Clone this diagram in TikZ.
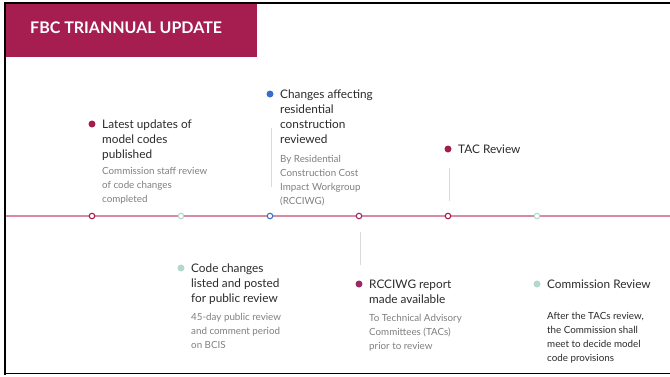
\documentclass[tikz,border=0pt]{standalone}
\usepackage{fontspec}
\setmainfont{Lato}
\definecolor{fbcred}{HTML}{A51E4F}
\definecolor{tline}{HTML}{D98AA3}
\definecolor{tmag}{HTML}{A31D4F}
\definecolor{tteal}{HTML}{B3D8CE}
\definecolor{tblue}{HTML}{3A6FC9}
\definecolor{tpurp}{HTML}{9A2A66}
\definecolor{ttext}{HTML}{2B2B2B}
\definecolor{tgrey}{HTML}{808080}
\definecolor{vgrey}{HTML}{DADADA}
\tikzset{
  tmarker/.style={circle,draw=#1,fill=white,line width=1.1pt,minimum size=5.5pt,inner sep=0pt},
  bdot/.style={circle,fill=#1,minimum size=7pt,inner sep=0pt},
  ttl/.style={anchor=north west,inner sep=0pt,align=left,text=ttext,font=\fontsize{11.8}{15}\selectfont},
  sub/.style={anchor=north west,inner sep=0pt,align=left,text=tgrey,font=\fontsize{9.8}{14}\selectfont},
  subdark/.style={anchor=north west,inner sep=0pt,align=left,text=ttext,font=\fontsize{9.8}{14}\selectfont},
  vline/.style={draw=vgrey,line width=0.8pt},
}
\begin{document}
\begin{tikzpicture}[x=1pt,y=-1pt]
\useasboundingbox (0,0) rectangle (670,376);
\fill[white] (0,0) rectangle (670,376);
% header
\fill[fbcred] (6,4) rectangle (257,57);
\node[anchor=west,text=white,font=\fontsize{16}{18}\bfseries\selectfont,inner sep=0pt] (title) at (30,28) {FBC TRIANNUAL UPDATE};
% frame
\draw[black,line width=2pt] (5,2.5) -- (670,2.5);
\draw[black,line width=2pt] (5,2) -- (5,375);
\draw[black,line width=1pt] (4,373.5) -- (670,373.5);
% timeline
\coordinate (tl0) at (6,216);
\coordinate (tl1) at (670,216);
\draw[tline,line width=1.2pt] (tl0) -- (tl1);
\node[tmarker=tmag] (mk1) at (92,216) {};
\node[tmarker=tteal] (mk2) at (181,216) {};
\node[tmarker=tblue] (mk3) at (270,216) {};
\node[tmarker=tpurp] (mk4) at (359,216) {};
\node[tmarker=tmag] (mk5) at (448,216) {};
\node[tmarker=tteal] (mk6) at (537,216) {};
% item 1
\node[bdot=tmag] (d1) at (92,124) {};
\node[ttl] (t1) at (102,119.5) {Latest updates of\\model codes\\published};
\node[sub] (s1) at (102,167.5) {Commission staff review\\of code changes\\completed};
% item 3 (above)
\node[bdot=tblue] (d3) at (270,94) {};
\node[ttl] (t3) at (280,89.5) {Changes affecting\\residential\\construction\\reviewed};
\node[sub] (s3) at (280,155) {By Residential\\Construction Cost\\Impact Workgroup\\(RCCIWG)};
\coordinate (v3a) at (271,128);
\coordinate (v3b) at (271,187);
\draw[vline] (v3a) -- (v3b);
% item 5 (above)
\node[bdot=tmag] (d5) at (448,149) {};
\node[ttl] (t5) at (458,144.5) {TAC Review};
\coordinate (v5a) at (449,168);
\coordinate (v5b) at (449,201);
\draw[vline] (v5a) -- (v5b);
% item 2 (below)
\node[bdot=tteal] (d2) at (181,268) {};
\node[ttl] (t2) at (191,263.5) {Code changes\\listed and posted\\for public review};
\node[sub] (s2) at (191,313) {45-day public review\\and comment period\\on BCIS};
% item 4 (below)
\coordinate (v4a) at (360,232);
\coordinate (v4b) at (360,265);
\draw[vline] (v4a) -- (v4b);
\node[bdot=tpurp] (d4) at (359,284) {};
\node[ttl] (t4) at (369,279.5) {RCCIWG report\\made available};
\node[sub] (s4) at (369,314) {To Technical Advisory\\Committees (TACs)\\prior to review};
% item 6 (below)
\node[bdot=tteal] (d6) at (537,284) {};
\node[ttl] (t6) at (547,279.5) {Commission Review};
\node[subdark] (s6) at (547,312.5) {After the TACs review,\\the Commission shall\\meet to decide model\\code provisions};
\end{tikzpicture}
\end{document}
